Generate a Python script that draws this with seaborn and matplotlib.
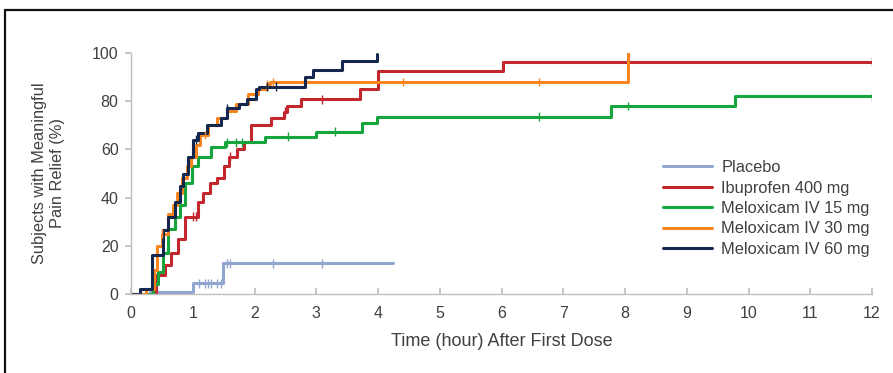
import numpy as np
import pandas as pd
import matplotlib
matplotlib.use("Agg")
import matplotlib.pyplot as plt
from matplotlib.lines import Line2D
import seaborn as sns

sns.set_theme(style="white")
plt.rcParams['font.family'] = ['Liberation Sans', 'DejaVu Sans']

# ---- data ----
placebo_t = [0.0, 0.3, 1.0, 1.49, 4.24]
placebo_v = [0.0, 1.0, 4.4, 12.8, 12.8]

ibu_t = [0.0, 0.40, 0.55, 0.65, 0.76, 0.87, 1.09, 1.17, 1.28, 1.39, 1.50, 1.58, 1.72, 1.83, 1.94, 2.26,
         2.47, 2.52, 2.76, 3.71, 4.00, 6.02, 12.0]
ibu_v = [0.0, 8, 12, 17, 23, 32, 38, 42, 46, 48, 53, 57, 60, 63, 70, 73,
         75.7, 78, 80.8, 84.9, 92.7, 96.4, 96.4]

m15_t = [0.0, 0.36, 0.43, 0.52, 0.60, 0.71, 0.79, 0.87, 0.98, 1.09, 1.30, 1.52, 2.17, 3.00, 3.74, 3.99,
         7.78, 9.78, 12.0]
m15_v = [0.0, 4, 9, 17, 27, 32, 37, 46, 53, 57, 61, 63, 65.3, 67.4, 71, 73.6,
         78, 82, 82]

m30_t = [0.0, 0.25, 0.38, 0.42, 0.50, 0.60, 0.68, 0.75, 0.82, 0.90, 0.97, 1.05, 1.12, 1.25, 1.40, 1.55,
         1.70, 1.90, 2.05, 2.20, 2.25, 8.05]
m30_v = [0.0, 2, 10, 20, 25, 33, 37, 42, 48, 53, 57, 62, 66, 70, 73, 76,
         79, 83, 85, 87, 88, 100]

m60_t = [0.0, 0.15, 0.335, 0.52, 0.60, 0.71, 0.79, 0.85, 0.93, 1.00, 1.09, 1.23, 1.45, 1.55, 1.75, 1.88,
         2.02, 2.07, 2.82, 2.95, 3.41, 3.98]
m60_v = [0.0, 2, 16, 26.5, 32, 38, 45, 50, 57, 64, 67, 70, 73, 77, 79, 81,
         85, 86, 90, 93, 96.8, 99.6]

# censoring marks (time points)
placebo_c = [1.1, 1.2, 1.25, 1.3, 1.4, 1.45, 1.55, 1.6, 2.3, 3.1]
ibu_c = [1.0, 1.05, 1.6, 2.5, 3.1, 12.0]
m15_c = [1.55, 1.7, 1.8, 2.55, 3.3, 6.6, 8.05, 12.0]
m30_c = [0.5, 1.2, 2.2, 2.3, 4.4, 6.6]
m60_c = [1.05, 1.55, 2.2, 2.35]

labels = ["Placebo", "Ibuprofen 400 mg", "Meloxicam IV 15 mg", "Meloxicam IV 30 mg", "Meloxicam IV 60 mg"]
colors = ["#90A6D0", "#C1272D", "#16A43C", "#F7861E", "#15274F"]

series = [(placebo_t, placebo_v, placebo_c), (ibu_t, ibu_v, ibu_c), (m15_t, m15_v, m15_c),
          (m30_t, m30_v, m30_c), (m60_t, m60_v, m60_c)]

rows = []
crows = []
for lab, (t, v, c) in zip(labels, series):
    t = np.asarray(t, float); v = np.asarray(v, float)
    for ti, vi in zip(t, v):
        rows.append((lab, ti, vi))
    for ci in c:
        idx = np.searchsorted(t, ci, side="right") - 1
        crows.append((lab, ci, v[max(idx, 0)]))
df = pd.DataFrame(rows, columns=["group", "time", "pct"])
cdf = pd.DataFrame(crows, columns=["group", "time", "pct"])

W, H = 893, 373
fig = plt.figure(figsize=(W / 100, H / 100), dpi=100)
ax = fig.add_axes([131 / W, 1 - 294 / H, (872 - 131) / W, (294 - 53) / H])

pal = dict(zip(labels, colors))
sns.lineplot(data=df, x="time", y="pct", hue="group", hue_order=labels, palette=pal,
             estimator=None, sort=False, drawstyle="steps-post", linewidth=2.2, legend=False, ax=ax)
sns.scatterplot(data=cdf, x="time", y="pct", hue="group", hue_order=labels, palette=pal,
                marker="|", s=40, linewidth=1.0, legend=False, ax=ax, zorder=3)

ax.set_xlim(0, 12)
ax.set_ylim(0, 100)
ax.set_xticks(range(0, 13))
ax.set_yticks(range(0, 101, 20))
for s in ["top", "right"]:
    ax.spines[s].set_visible(False)
for s in ["left", "bottom"]:
    ax.spines[s].set_color("#BFBFBF")
    ax.spines[s].set_linewidth(1.0)
ax.tick_params(axis="x", direction="in", length=4, color="#BFBFBF", labelsize=11.5,
               labelcolor="#404040", pad=9, bottom=True)
ax.tick_params(axis="y", direction="out", length=4, color="#BFBFBF", labelsize=11.5,
               labelcolor="#404040", pad=5, left=True)
ax.set_xlabel("Time (hour) After First Dose", fontsize=13, color="#404040", labelpad=8)
ax.set_ylabel("Subjects with Meaningful\nPain Relief (%)", fontsize=11.8, color="#404040",
              labelpad=19, linespacing=1.25)

handles = [Line2D([], [], color=c, linewidth=2.2) for c in colors]
leg = fig.legend(handles, labels, loc="upper left", bbox_to_anchor=(655 / W, 1 - 152 / H),
                 frameon=False, fontsize=11.8, handlelength=3.0, handletextpad=0.55,
                 labelspacing=0.33, borderpad=0)
for t in leg.get_texts():
    t.set_color("#404040")

# figure frame (clipped at right and bottom)
fig.add_artist(Line2D([5 / W, 1.0], [1 - 10 / H, 1 - 10 / H], color="#111111", linewidth=1.6,
                      transform=fig.transFigure))
fig.add_artist(Line2D([5 / W, 5 / W], [0.0, 1 - 10 / H], color="#111111", linewidth=1.6,
                      transform=fig.transFigure))

fig.savefig("out.png", dpi=100)
